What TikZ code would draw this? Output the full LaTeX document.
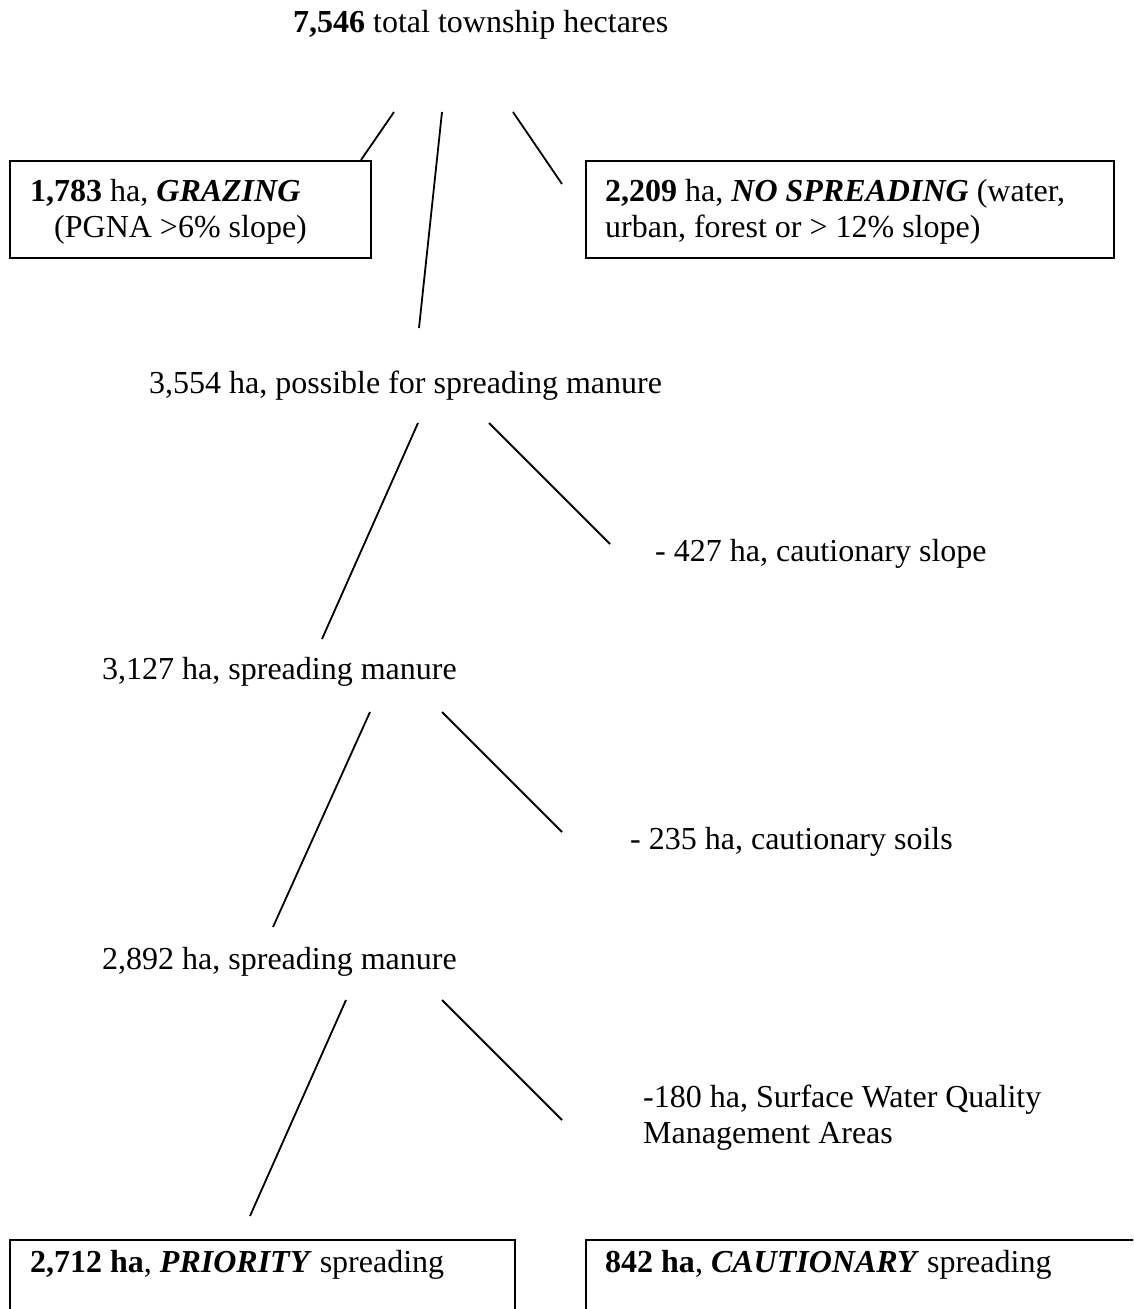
\documentclass[tikz,border=0pt]{standalone}
\usepackage{fontspec}
\setmainfont{Liberation Serif}
\begin{document}
\begin{tikzpicture}[x=1pt,y=-1pt,
  font=\fontsize{32}{38}\selectfont,
  txt/.style={anchor=base west, inner sep=0pt},
  boxst/.style={draw, line width=1.6pt, anchor=north west, inner sep=0pt},
  conn/.style={line width=1.8pt}]
\useasboundingbox (0,0) rectangle (1133,1309);
\clip (0,0) rectangle (1133,1309);
\fill[white] (0,0) rectangle (1133,1309);

% texts
\node[txt] (total) at (293,32) {\textbf{7,546} total township hectares};

\node[boxst, minimum width=361pt, minimum height=97pt] (grazebox) at (9,160) {};
\node[txt] (graze1) at (30,201) {\textbf{1,783} ha, \textbf{\textit{GRAZING}}};
\node[txt] (graze2) at (54,237) {(PGNA >6\% slope)};

\node[boxst, minimum width=528pt, minimum height=97pt] (nobox) at (585,160) {};
\node[txt] (no1) at (605,201) {\textbf{2,209} ha, \textbf{\textit{NO SPREADING}} (water,};
\node[txt] (no2) at (605,237) {urban, forest or > 12\% slope)};

\node[txt] (possible) at (149,393) {3,554 ha, possible for spreading manure};
\node[txt] (slope) at (655,561) {- 427 ha, cautionary slope};
\node[txt] (spread1) at (102,679) {3,127 ha, spreading manure};
\node[txt] (soils) at (630,849) {- 235 ha, cautionary soils};
\node[txt] (spread2) at (102,969) {2,892 ha, spreading manure};
\node[txt] (swq1) at (643,1107) {-180 ha, Surface Water Quality};
\node[txt] (swq2) at (643,1143) {Management Areas};

\node[boxst, minimum width=505pt, minimum height=120pt] (prbox) at (9,1239) {};
\node[txt] (pr) at (30,1272) {\textbf{2,712 ha}, \textbf{\textit{PRIORITY}} spreading};
\node[boxst, minimum width=600pt, minimum height=120pt] (cabox) at (585,1239) {};
\node[txt] (ca) at (605,1272) {\textbf{842 ha}, \textbf{\textit{CAUTIONARY}} spreading};

% connector end points
\coordinate (a1) at (394,112); \coordinate (a2) at (361,160);
\coordinate (b1) at (442,112); \coordinate (b2) at (419,328);
\coordinate (c1) at (513,112); \coordinate (c2) at (562,184);
\coordinate (d1) at (418,423); \coordinate (d2) at (322,639);
\coordinate (e1) at (489,423); \coordinate (e2) at (610,544);
\coordinate (f1) at (370,712); \coordinate (f2) at (273,927);
\coordinate (g1) at (442,712); \coordinate (g2) at (562,832);
\coordinate (h1) at (346,1000); \coordinate (h2) at (250,1216);
\coordinate (i1) at (442,1000); \coordinate (i2) at (562,1120);

\draw[conn] (a1) -- (a2);
\draw[conn] (b1) -- (b2);
\draw[conn] (c1) -- (c2);
\draw[conn] (d1) -- (d2);
\draw[conn] (e1) -- (e2);
\draw[conn] (f1) -- (f2);
\draw[conn] (g1) -- (g2);
\draw[conn] (h1) -- (h2);
\draw[conn] (i1) -- (i2);
\end{tikzpicture}
\end{document}
